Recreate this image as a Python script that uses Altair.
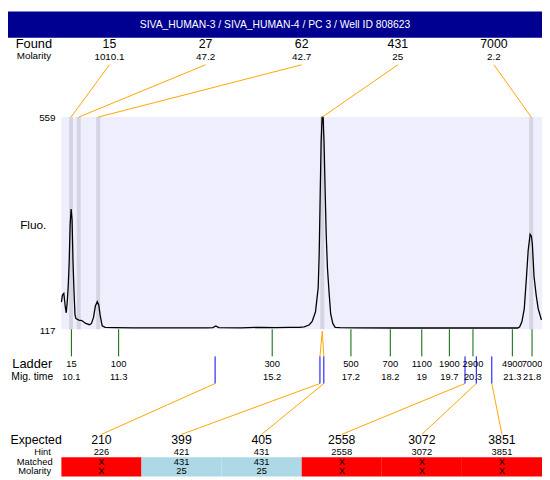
import altair as alt
import pandas as pd

# ---------------- data ----------------
title = "SIVA_HUMAN-3 / SIVA_HUMAN-4 / PC 3 / Well ID 808623"

found_sizes = ["15", "27", "62", "431", "7000"]
found_molarity = ["1010.1", "47.2", "42.7", "25", "2.2"]
found_times = [10.09, 10.287, 10.781, 16.472, 21.779]

ladder_sizes = ["15", "100", "300", "500", "700", "1100", "1900", "2900", "4900", "7000"]
ladder_times = [10.1, 11.3, 15.2, 17.2, 18.2, 19.0, 19.7, 20.3, 21.3, 21.8]
ladder_mig_labels = ["10.1", "11.3", "15.2", "17.2", "18.2", "19", "19.7", "20.3", "21.3", "21.8"]

expected_sizes = ["210", "399", "405", "2558", "3072", "3851"]
expected_hint = ["226", "421", "431", "2558", "3072", "3851"]
expected_matched = ["X", "431", "431", "X", "X", "X"]
expected_molarity = ["X", "25", "25", "X", "X", "X"]
expected_times = [13.75, 16.413, 16.512, 20.098, 20.384, 20.778]
expected_found_index = [None, 3, 3, None, None, None]

trace_time = [9.846, 9.871, 9.908, 9.945, 9.969, 9.994, 10.019, 10.043, 10.068, 10.093,
              10.117, 10.142, 10.167, 10.191, 10.216, 10.290, 10.364, 10.463, 10.561, 10.610,
              10.660, 10.709, 10.758, 10.795, 10.832, 10.882, 10.956, 11.202, 11.696, 12.189,
              12.929, 13.546, 13.694, 13.768, 13.842, 14.409, 14.903, 15.273, 15.643, 15.890,
              16.013, 16.136, 16.216, 16.300, 16.369, 16.394, 16.419, 16.443, 16.468, 16.493,
              16.517, 16.542, 16.572, 16.604, 16.645, 16.685, 16.739, 16.800, 16.924, 17.368,
              18.355, 19.588, 20.821, 21.438, 21.487, 21.544, 21.603, 21.660, 21.702, 21.751,
              21.784, 21.808, 21.850, 21.907, 21.956, 22.038]
trace_fluo = [173.5, 187.6, 191.7, 163.4, 151.3, 173.5, 205.8, 254.2, 335.0, 367.2,
              345.0, 254.2, 193.7, 147.3, 139.2, 136.2, 135.2, 129.1, 126.5, 129.1,
              141.2, 165.4, 174.5, 167.5, 145.3, 124.1, 121.0, 120.4, 120.0, 120.0,
              120.0, 120.0, 120.4, 123.7, 120.4, 120.0, 121.0, 120.4, 121.0, 121.0,
              122.0, 125.9, 133.1, 153.3, 203.8, 274.4, 395.5, 506.5, 559.0, 559.0,
              506.5, 415.7, 314.8, 244.1, 193.7, 149.3, 129.1, 121.0, 120.4, 120.0,
              119.6, 119.6, 119.6, 119.6, 122.0, 133.1, 160.0, 227.4, 281.1, 314.8,
              310.7, 294.6, 227.4, 187.0, 160.0, 136.6]

fluo_max, fluo_min = 559, 117

# ---------------- layout ----------------
W, H = 542, 472          # drawing size
RW, RH = 550, 480        # layout units
FONT = "Liberation Sans"
PX_PER_T, T_ANCHOR, PX_ANCHOR = 40.55, 10.1, 65.3
T0 = T_ANCHOR - PX_ANCHOR / PX_PER_T
T1 = T_ANCHOR + (RW - PX_ANCHOR) / PX_PER_T


def tx(px):
    return T0 + px * (T1 - T0) / RW


PL, PR, PT, PB = 55, 550, 109, 328
fpp = (fluo_max - fluo_min) / (PB - PT)
VTOP = fluo_min + PB * fpp
VBOT = fluo_min - (RH - PB) * fpp

XS = alt.Scale(domain=[T0, T1], nice=False, zero=False)
YP = alt.Scale(domain=[0, RH], reverse=True, nice=False, zero=False)
YF = alt.Scale(domain=[VBOT, VTOP], nice=False, zero=False)


def xq(f):
    return alt.X(f, type="quantitative", scale=XS, axis=None)


def yq(f):
    return alt.Y(f, type="quantitative", scale=YP, axis=None)


def rects(rows):
    df = pd.DataFrame(rows, columns=["x", "x2", "y", "y2", "c"])
    return alt.Chart(df).mark_rect().encode(
        x=xq("x"), x2="x2", y=yq("y"), y2="y2", color=alt.Color("c:N", scale=None))


def rules(rows, width=1.0):
    df = pd.DataFrame(rows, columns=["x", "x2", "y", "y2", "c"])
    return alt.Chart(df).mark_rule(strokeWidth=width).encode(
        x=xq("x"), x2="x2", y=yq("y"), y2="y2", color=alt.Color("c:N", scale=None))


def texts(rows, size, align="center", color="black"):
    df = pd.DataFrame(rows, columns=["x", "y", "text"])
    return alt.Chart(df).mark_text(align=align, baseline="middle", fontSize=size,
                                   font=FONT, color=color).encode(
        x=xq("x"), y=yq("y"), text="text:N")


ORANGE, GREEN, BLUE = "#FFA500", "#006400", "#0000FF"
n_f = len(found_sizes)
n_e = len(expected_sizes)
f_slot = [tx(PL + (i + 0.5) * (PR - PL) / n_f) for i in range(n_f)]
e_slot = [tx(PL + (i + 0.5) * (PR - PL) / n_e) for i in range(n_e)]
e_edge = [tx(PL + i * (PR - PL) / n_e) for i in range(n_e + 1)]
BAND = 0.05

layers = []
# title bar + plot background + peak bands + expected cells
bg = [(T0, T1, 0, 27, "#000090"), (tx(PL), T1, PT, PB, "#EEEEFC")]
bg += [(t - BAND, t + BAND, PT, PB, "#D4D4E2") for t in found_times]
bg += [(e_edge[i], e_edge[i + 1], 460, RH,
        "#ADD8E6" if expected_matched[i] != "X" else "#FF0000") for i in range(n_e)]
layers.append(rects(bg))

# trace
trace_df = pd.DataFrame({"t": trace_time, "f": trace_fluo})
layers.append(alt.Chart(trace_df).mark_line(color="black", strokeWidth=1.3).encode(
    x=xq("t"), y=alt.Y("f:Q", scale=YF, axis=None), order="t:Q"))

# connectors and ticks
conn = [(f_slot[i], found_times[i], 55, PT, ORANGE) for i in range(n_f)]
for i, fi in enumerate(expected_found_index):
    if fi is not None:
        conn.append((found_times[fi], expected_times[i], 330, 356, ORANGE))
conn += [(expected_times[i], e_slot[i], 384, 436.5, ORANGE) for i in range(n_e)]
layers.append(rules(conn))
layers.append(rules([(t, t, PB, 356, GREEN) for t in ladder_times]))
layers.append(rules([(t, t, 356, 384, BLUE) for t in expected_times]))

# texts
layers.append(texts([(tx(275), 13.5, title)], 10.5, color="white"))
layers.append(texts([(tx(8), 34, "Found")], 13, align="left"))
layers.append(texts([(tx(9), 46.5, "Molarity")], 10, align="left"))
layers.append(texts([(f_slot[i], 34, found_sizes[i]) for i in range(n_f)], 12.5))
layers.append(texts([(f_slot[i], 47, found_molarity[i]) for i in range(n_f)], 10))
layers.append(texts([(tx(49), 110.5, str(fluo_max)), (tx(49), 329.5, str(fluo_min))], 10, align="right"))
layers.append(texts([(tx(12.5), 220, "Fluo.")], 12, align="left"))
layers.append(texts([(tx(25), 364, "Ladder")], 13))
layers.append(texts([(tx(25), 377, "Mig. time")], 10.5))
layers.append(texts([(ladder_times[i], 363.5, ladder_sizes[i]) for i in range(len(ladder_times))], 9.5))
layers.append(texts([(ladder_times[i], 377, ladder_mig_labels[i]) for i in range(len(ladder_times))], 9.5))
layers.append(texts([(tx(29), 442, "Expected")], 12.5))
layers.append(texts([(tx(35.5), 455, "Hint")], 9.5))
layers.append(texts([(tx(27.5), 465, "Matched"), (tx(27.5), 474.5, "Molarity")], 9.5))
layers.append(texts([(e_slot[i], 442, expected_sizes[i]) for i in range(n_e)], 12.5))
layers.append(texts([(e_slot[i], 455, expected_hint[i]) for i in range(n_e)], 9.5))
layers.append(texts([(e_slot[i], 465, expected_matched[i]) for i in range(n_e)], 9.5))
layers.append(texts([(e_slot[i], 474.5, expected_molarity[i]) for i in range(n_e)], 9.5))

chart = alt.layer(*layers).resolve_scale(y="independent").properties(
    width=W, height=H, padding=0, autosize=alt.AutoSizeParams(type="none"),
    background="white",
).configure_view(stroke=None)

chart.save("out.html", embed_options={"renderer": "svg", "actions": False})
